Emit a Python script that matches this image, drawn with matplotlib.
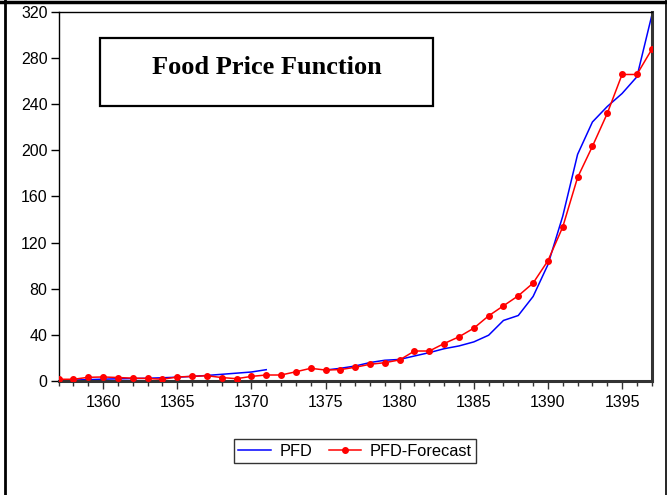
import numpy as np
import matplotlib
matplotlib.use("Agg")
import matplotlib.pyplot as plt
from matplotlib.lines import Line2D
from matplotlib.patches import Rectangle
from matplotlib.ticker import MultipleLocator

years = list(range(1357, 1398))

# PFD (actual); gap where the series is missing
pfd = [0.5, 0.8, 1.2, 1.6, 1.9, 2.1, 2.4, 2.8, 3.3, 4.0, 4.8, 5.8, 6.8, 7.8, 9.8,
       np.nan, np.nan, np.nan,
       9.5, 11.0, 13.0, 16.0, 18.0, 18.7, 21.7, 24.6, 28.0, 30.4, 33.9, 39.7,
       52.5, 56.8, 73.3, 100.9, 143.0, 196.5, 224.6, 238.0, 249.3, 263.8, 316.8]

# PFD-Forecast
forecast = [1.5, 1.5, 3.2, 3.5, 3.0, 2.5, 2.2, 1.5, 3.5, 4.0, 4.6, 3.0, 2.0, 4.0,
            5.2, 5.2, 8.0, 11.0, 9.5, 9.9, 11.9, 14.5, 15.9, 18.3, 26.0, 26.0,
            32.5, 38.3, 45.8, 56.5, 65.2, 73.9, 84.9, 104.3, 133.6, 176.5,
            203.5, 232.0, 265.8, 265.8, 287.5]

plt.rcParams['font.family'] = ['Liberation Sans', 'DejaVu Sans']

fig = plt.figure(figsize=(6.67, 4.95), dpi=100)
ax = fig.add_axes([0.0879, 0.2303, 0.8892, 0.7455])

ax.plot(years, pfd, color='#0000ff', linewidth=1.1, label='PFD', zorder=2)
ax.plot(years, forecast, color='#ff0000', linewidth=1.1, marker='o',
        markersize=4, label='PFD-Forecast', zorder=3)

ax.set_xlim(1357, 1397)
ax.set_ylim(0, 320)
ax.xaxis.set_major_locator(MultipleLocator(5))
ax.xaxis.set_minor_locator(MultipleLocator(1))
ax.yaxis.set_major_locator(MultipleLocator(40))
ax.tick_params(axis='x', which='major', direction='out', length=6, width=1,
               labelsize=11.5, pad=4, color='#333333')
ax.tick_params(axis='x', which='minor', direction='out', length=3.5, width=1,
               color='#333333')
ax.tick_params(axis='y', which='major', direction='out', length=6, width=1,
               labelsize=11.5, pad=2)

ax.spines['left'].set_linewidth(1.0)
ax.spines['top'].set_linewidth(1.0)
ax.spines['right'].set_linewidth(2.2)
ax.spines['right'].set_color('#333333')
ax.spines['bottom'].set_linewidth(2.2)
ax.spines['bottom'].set_color('#333333')

# title box
fig.add_artist(Rectangle((100 / 667, 1 - 106 / 495), 333 / 667, 68 / 495,
                         transform=fig.transFigure, fill=False,
                         edgecolor='black', linewidth=1.6))
fig.text(267 / 667, 1 - 67 / 495, 'Food Price Function',
         family='Liberation Serif', fontweight='bold', fontsize=19,
         ha='center', va='center')

leg = fig.legend(loc='center', bbox_to_anchor=(355 / 667, 1 - 451 / 495),
                 ncol=2, fontsize=11.8, frameon=True, fancybox=False,
                 edgecolor='black', handlelength=2.0, columnspacing=1.0,
                 borderpad=0.3, handletextpad=0.5)
leg.get_frame().set_linewidth(1.0)

# outer frame
fig.add_artist(Line2D([5 / 667, 5 / 667], [0, 1], transform=fig.transFigure,
                      color='black', linewidth=2))
fig.add_artist(Line2D([0, 1], [1 - 1.5 / 495, 1 - 1.5 / 495],
                      transform=fig.transFigure, color='black', linewidth=2.5))
fig.add_artist(Line2D([665.5 / 667, 665.5 / 667], [0, 1],
                      transform=fig.transFigure, color='black', linewidth=1.2))

fig.savefig('out.png', dpi=100)
